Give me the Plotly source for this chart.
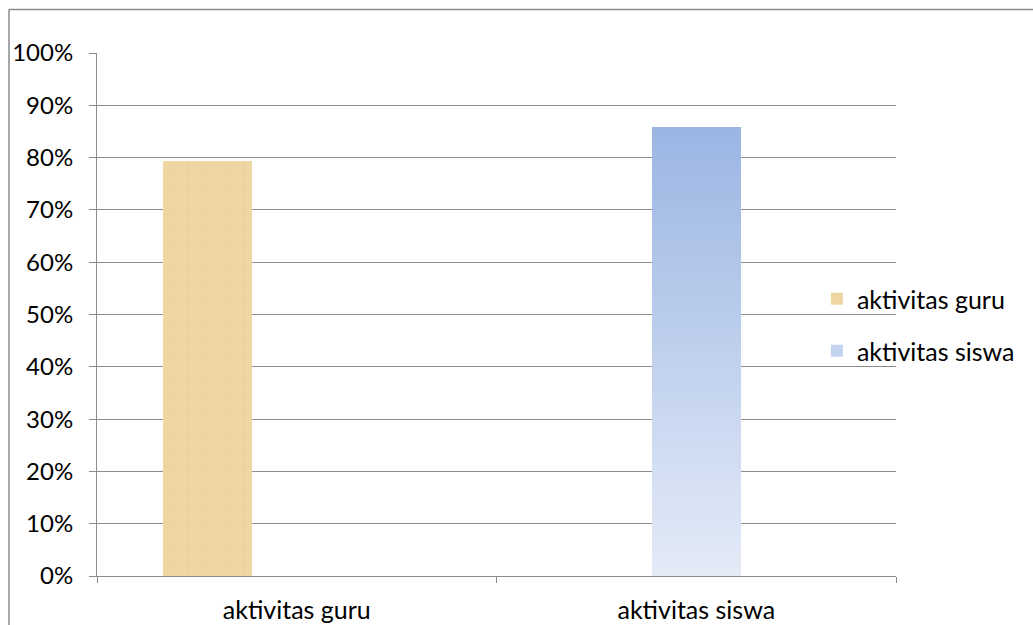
import plotly.graph_objects as go

# Data
categories = ["aktivitas guru", "aktivitas siswa"]
series_names = ["aktivitas guru", "aktivitas siswa"]
values = [0.793, 0.858]
y_ticks = [0, 0.1, 0.2, 0.3, 0.4, 0.5, 0.6, 0.7, 0.8, 0.9, 1.0]

W, H = 1033, 625
M_L, M_R, M_T, M_B = 97, 137, 53, 49
PH = H - M_T - M_B

GRID = "#8c8c8c"
FONT = "Lato, 'Liberation Sans', sans-serif"
FS_Y = 24
FS = 25
GOLD = "#eed7a3"
BLUE_TOP = (155, 181, 227)
BLUE_BOTTOM = (228, 235, 247)

BAR_W = 0.2225
fig = go.Figure()

# Teacher series: textured-looking tan bar, shifted left within its category
fig.add_trace(go.Bar(
    x=[categories[0]], y=[values[0]], name=series_names[0],
    width=BAR_W, offset=-0.334,
    marker=dict(color=GOLD, line=dict(width=0),
                pattern=dict(shape="+", fgcolor="#ddc38a", size=14, solidity=0.08)),
    legend="legend",
))

# Student series: base bar carries the legend entry, gradient slices drawn above it
fig.add_trace(go.Bar(
    x=[categories[1]], y=[values[1]], name=series_names[1],
    width=BAR_W, offset=-BAR_W / 2,
    marker=dict(color="#c3d2ee", line=dict(width=0)),
    legend="legend2",
))
N = 80
v = values[1]
for i in range(N):
    t = (i + 0.5) / N
    c = tuple(round(BLUE_BOTTOM[k] + (BLUE_TOP[k] - BLUE_BOTTOM[k]) * t) for k in range(3))
    fig.add_trace(go.Bar(
        x=[categories[1]], y=[v / N], base=[v * i / N],
        width=BAR_W, offset=-BAR_W / 2,
        marker=dict(color="rgb(%d,%d,%d)" % c, line=dict(width=0)),
        showlegend=False, hoverinfo="skip",
    ))

# Outer chart-area frame (left and top edges)
fx = (9 - M_L) / (W - M_L - M_R)
fy = (576 - 9.5) / PH
fig.add_shape(type="line", xref="paper", yref="paper", x0=fx, x1=fx, y0=-0.2, y1=fy,
              line=dict(color="#8a8a8a", width=1.5))
fig.add_shape(type="line", xref="paper", yref="paper", x0=fx, x1=1.3, y0=fy, y1=fy,
              line=dict(color="#8a8a8a", width=1.5))

legend_style = dict(
    font=dict(family=FONT, size=FS, color="#000000"),
    bgcolor="rgba(0,0,0,0)", xanchor="left", yanchor="middle",
    itemwidth=30,
)
LEG_X = 0.901
fig.update_layout(
    width=W, height=H,
    margin=dict(l=M_L, r=M_R, t=M_T, b=M_B, autoexpand=False),
    paper_bgcolor="white", plot_bgcolor="white",
    barmode="overlay", bargap=0,
    font=dict(family=FONT, size=FS, color="#000000"),
    legend=dict(x=LEG_X, y=(576 - 299) / PH, **legend_style),
    legend2=dict(x=LEG_X, y=(576 - 351) / PH, **legend_style),
    xaxis=dict(
        type="category", categoryorder="array", categoryarray=categories,
        range=[-0.5, 1.5], tickson="boundaries", ticks="outside", ticklen=6,
        tickcolor=GRID, showline=True, linecolor=GRID, linewidth=1,
        showgrid=False, ticklabelstandoff=12, automargin=False,
        tickfont=dict(family=FONT, size=FS),
    ),
    yaxis=dict(
        range=[0, 1], tickvals=y_ticks, tickformat=".0%",
        ticks="outside", ticklen=7, tickcolor=GRID,
        showline=True, linecolor=GRID, linewidth=1,
        showgrid=True, gridcolor=GRID, gridwidth=1, zeroline=False,
        ticklabelstandoff=11, automargin=False,
        tickfont=dict(family=FONT, size=FS_Y),
    ),
)

fig.write_html("out.html")
